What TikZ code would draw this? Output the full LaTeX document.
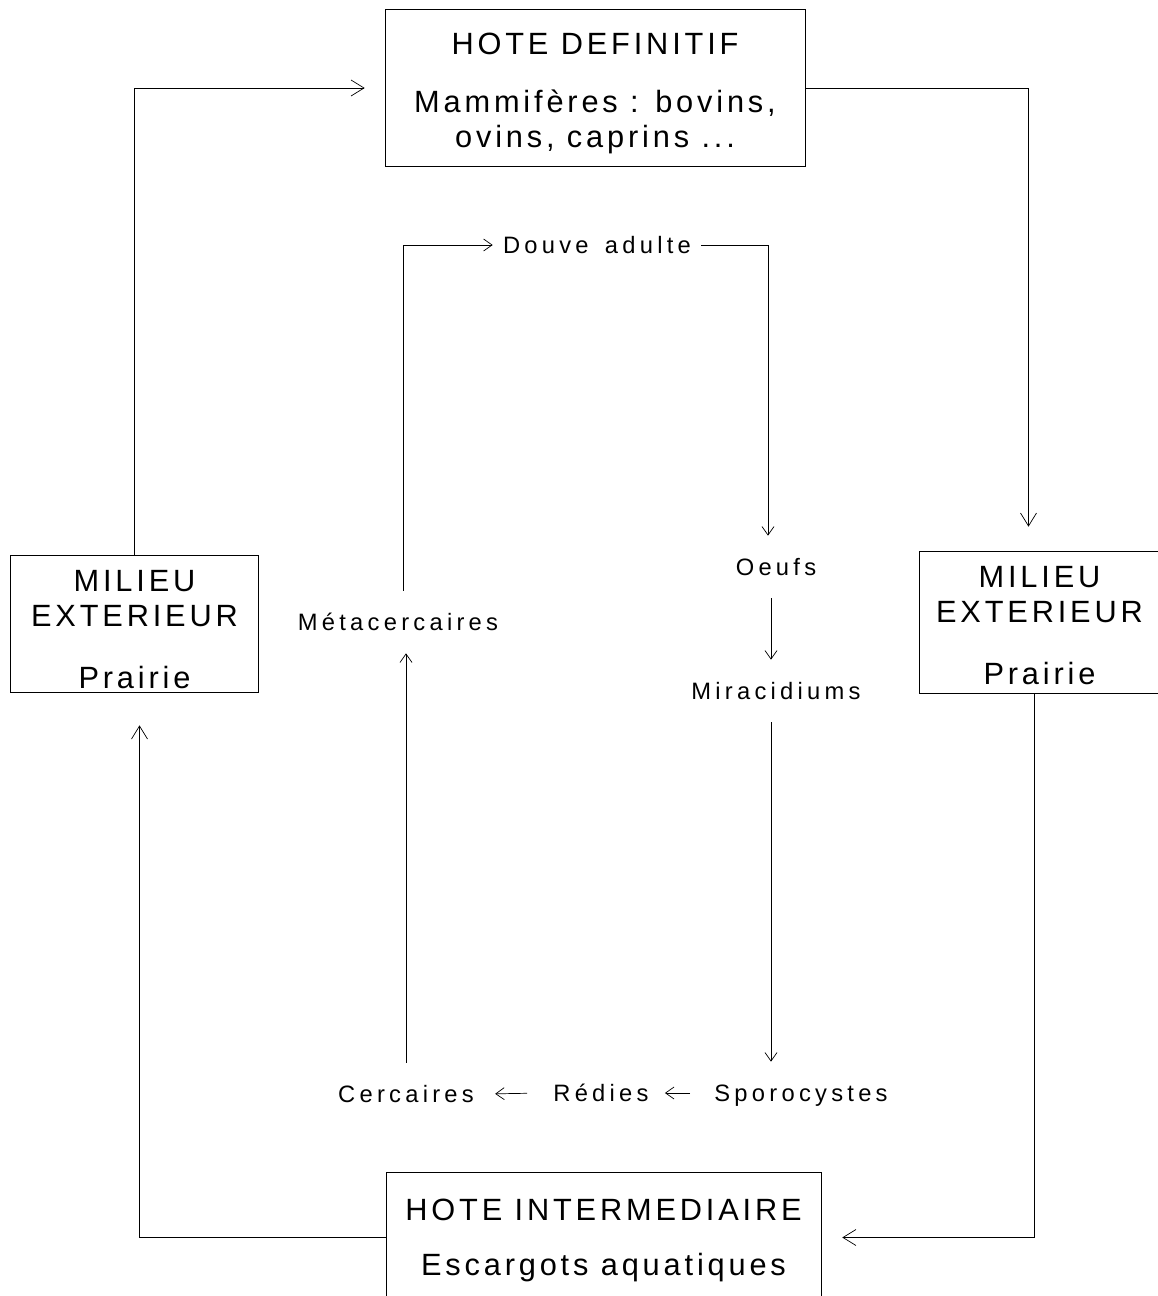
\documentclass[tikz,border=0pt]{standalone}
\usepackage{fontspec}
\setmainfont{Liberation Sans}
\newfontfamily\boxfont{Liberation Sans}[LetterSpace=12.5]
\newfontfamily\stagefont{Liberation Sans}[LetterSpace=18, WordSpace=1.5]
\usetikzlibrary{positioning, arrows.meta}
\tikzset{
x=0.02cm, y=-0.02cm, % one unit is one pixel of the scan, y goes down
line width=0.9pt,
>={Straight Barb[length=0.26cm, width=0.32cm]}, % open arrow heads of the outer cycle
host/.style={draw, align=center, inner sep=0pt, font=\boxfont\fontsize{17.5}{19.9}\selectfont}, % the framed boxes
stage/.style={inner xsep=0.2cm, inner ysep=0.45cm, text height=0.34cm, text depth=0pt, font=\stagefont\fontsize{13.5}{16}\selectfont}, % the stages of the douve
small/.style={-{Straight Barb[length=0.17cm, width=0.24cm]}}, % thin arrows of the inner cycle
}

\begin{document}
\begin{tikzpicture}
    \useasboundingbox (0,0) rectangle (1158,1296);

    % outer cycle: hosts and milieu
    \node[host, minimum width=8.4cm, minimum height=3.14cm] (hd) at (595,88) {\rule{0pt}{0.65cm}HOTE DEFINITIF\\[0.46cm]Mammifères : bovins,\\ovins, caprins ...};
    \node[host, minimum width=4.96cm, minimum height=2.74cm] (ml) at (134.5,623.5) {\rule{0pt}{0.66cm}MILIEU\\EXTERIEUR\\[0.54cm]Prairie};
    \node[host, minimum width=4.82cm, minimum height=2.84cm] (mr) at (1039.5,622) {\rule{0pt}{0.56cm}MILIEU\\EXTERIEUR\\[0.54cm]Prairie};
    \node[host, minimum width=8.7cm, minimum height=2.62cm] (hi) at (603.5,1237.5) {\rule{0pt}{0.56cm}HOTE INTERMEDIAIRE\\[0.4cm]Escargots aquatiques};

    \draw[->, shorten >=0.4cm] (ml.north) |- (hd.west);
    \draw[->, shorten >=0.48cm] (hd.east) -| ([xshift=-0.22cm]mr.north);
    \draw[->, shorten >=0.42cm] ([xshift=-0.11cm]mr.south) |- (hi.east);
    \draw[->, shorten >=0.66cm] (hi.west) -| ([xshift=0.1cm]ml.south);

    % inner cycle: stages of the douve
    \node[stage] (douve) at (597,245) {Douve adulte};
    \node[stage] (oeufs) at (776,567) {Oeufs};
    \node[stage] (mira) at (776,691) {Miracidiums};
    \node[stage] (sporo) at (801,1093) {Sporocystes};
    \node[stage] (redies) at (601,1093) {Rédies};
    \node[stage] (cerc) at (406,1094) {Cercaires};
    \node[stage] (meta) at (398,622) {Métacercaires};

    \draw[small] ([xshift=0.1cm]meta.north) |- (douve.west);
    \draw[small] (douve.east) -| ([xshift=-0.16cm]oeufs.north);
    \draw[small] ([xshift=-0.1cm]oeufs.south) -- ([xshift=-0.1cm]mira.north);
    \draw[small] ([xshift=-0.1cm]mira.south) -- ([xshift=-0.1cm]mira.south |- sporo.north);
    \draw[small, shorten <=0.28cm, shorten >=0.12cm] (sporo.west) -- (redies.east);
    \draw[small, shorten <=0.32cm, shorten >=0.22cm] (redies.west) -- (cerc.east);
    \draw[small] (cerc.north) -- (cerc.north |- meta.south);
\end{tikzpicture}
\end{document}
